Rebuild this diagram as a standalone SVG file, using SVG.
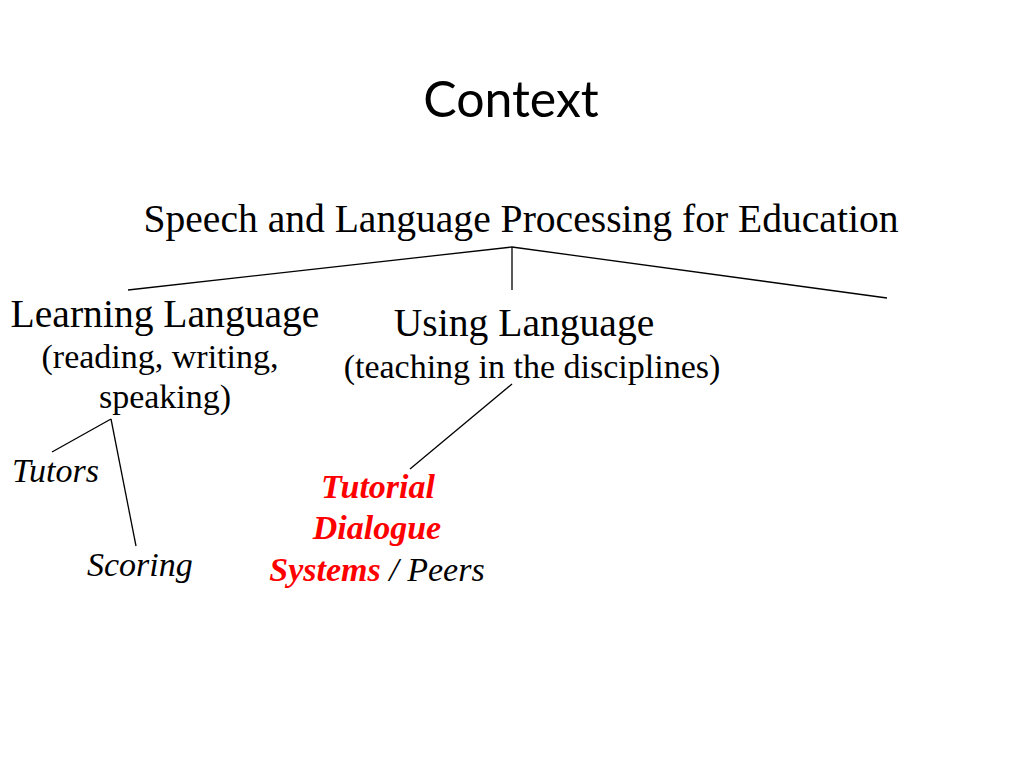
<svg xmlns="http://www.w3.org/2000/svg" width="1024" height="768" viewBox="0 0 1024 768">
<style>
.s{font-family:"Liberation Serif","Times New Roman",serif;fill:#000}
.big{font-size:39.6px}
.mid{font-size:34px}
.it{font-style:italic;font-size:34px}
.red{fill:#ff0000;font-weight:bold;font-style:italic}
.ln{stroke:#000;stroke-width:1.3;fill:none}
</style>
<rect width="1024" height="768" fill="#fff"/>
<text x="511" y="117" text-anchor="middle" font-family="Lato,'Open Sans','Liberation Sans',sans-serif" font-size="50" fill="#000">Context</text>
<g id="root"><text class="s big" x="521" y="232" text-anchor="middle">Speech and Language Processing for Education</text></g>
<g id="learning">
<text class="s big" x="165" y="327" text-anchor="middle">Learning Language</text>
<text class="s mid" x="160" y="368" text-anchor="middle">(reading, writing,</text>
<text class="s mid" x="165" y="408" text-anchor="middle">speaking)</text>
</g>
<g id="using">
<text class="s big" x="524" y="336" text-anchor="middle">Using Language</text>
<text class="s mid" x="532" y="378" text-anchor="middle">(teaching in the disciplines)</text>
</g>
<g id="tutors"><text class="s it" x="12" y="482">Tutors</text></g>
<g id="scoring"><text class="s it" x="87" y="576">Scoring</text></g>
<g id="tds">
<text class="s mid red" x="378" y="498" text-anchor="middle">Tutorial</text>
<text class="s mid red" x="377" y="539" text-anchor="middle">Dialogue</text>
<text class="s it" x="377" y="581" text-anchor="middle"><tspan class="red">Systems</tspan> / Peers</text>
</g>
<g id="connectors">
<line class="ln" x1="512" y1="247" x2="128" y2="290"/>
<line class="ln" x1="512" y1="247" x2="512" y2="290"/>
<line class="ln" x1="512" y1="247" x2="887" y2="298"/>
<line class="ln" x1="111" y1="419" x2="52" y2="452"/>
<line class="ln" x1="111" y1="419" x2="136" y2="546"/>
<line class="ln" x1="512" y1="384" x2="410" y2="469"/>
</g>
</svg>
